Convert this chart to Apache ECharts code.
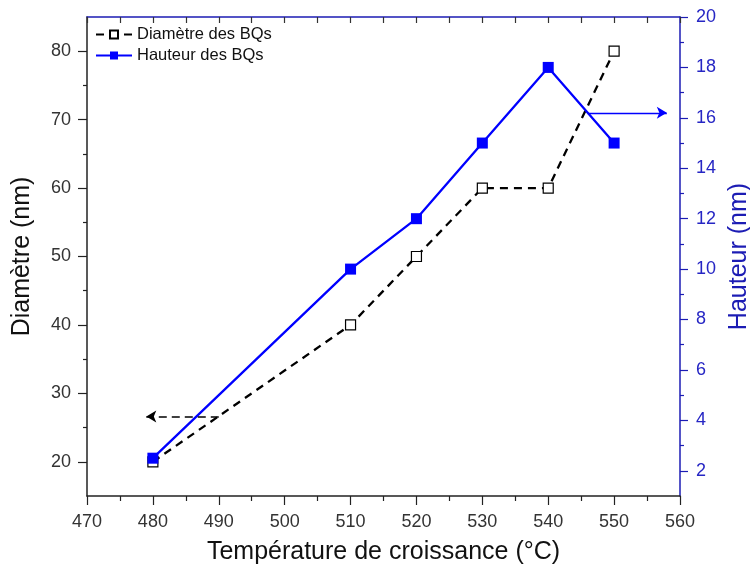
<!DOCTYPE html>
<html><head><meta charset="utf-8">
<script src="https://cdn.jsdelivr.net/npm/echarts@6/dist/echarts.min.js"></script>
<style>html,body{margin:0;padding:0;background:#fff}#c{width:750px;height:574px}</style>
</head><body><div id="c"></div>
<script>
const temps = [480, 510, 520, 530, 540, 550];
const diametre = [20, 40, 50, 60, 60, 80];
const hauteurT = [480, 510, 520, 530, 540, 550];
const hauteur = [2.5, 10, 12, 15, 18, 15];
const leftLabels = [20, 30, 40, 50, 60, 70, 80];
const leftMinor = [25, 35, 45, 55, 65, 75];
const rightLabels = [2, 4, 6, 8, 10, 12, 14, 16, 18, 20];
const rightMinor = [3, 5, 7, 9, 11, 13, 15, 17, 19];
const arrowDiam = [[490, 26.6], [479, 26.6]];
const arrowHaut = [[546, 16.2], [558, 16.2]];

const FONT = 'Liberation Sans, Arial, sans-serif';
const BLUE = '#0000ff';
const AXBLUE = '#1c1cb4';
const chart = echarts.init(document.getElementById('c'), null, {renderer: 'canvas'});
chart.setOption({
  animation: false,
  backgroundColor: '#fff',
  textStyle: {fontFamily: FONT},
  grid: {left: 87, right: 70, top: 17, bottom: 78, containLabel: false, outerBoundsMode: 'none'},
  legend: {
    left: 90, top: 21, orient: 'vertical', itemWidth: 36, itemHeight: 10, itemGap: 4,
    textStyle: {fontFamily: FONT, fontSize: 16.5, color: '#111'},
    data: ['Diamètre des BQs', 'Hauteur des BQs']
  },
  xAxis: [{
    type: 'value', position: 'bottom', min: 470, max: 560, interval: 10,
    name: 'Température de croissance (°C)', nameLocation: 'middle', nameGap: 44,
    nameTextStyle: {fontFamily: FONT, fontSize: 25, color: '#111'},
    axisLine: {show: true, onZero: false, lineStyle: {color: '#222', width: 1.5}},
    axisTick: {show: true, inside: false, length: 9, lineStyle: {color: '#222', width: 1.2}},
    minorTick: {show: true, splitNumber: 2, length: 5, lineStyle: {color: '#222', width: 1.2}},
    axisLabel: {fontFamily: FONT, fontSize: 18, color: '#333', margin: 17},
    splitLine: {show: false}
  }, {
    type: 'value', position: 'top', min: 470, max: 560, interval: 5,
    axisLine: {show: true, onZero: false, lineStyle: {color: AXBLUE, width: 1.5}},
    axisTick: {show: true, inside: true, length: 6, lineStyle: {color: '#333', width: 1.2}},
    axisLabel: {show: false}, splitLine: {show: false}
  }],
  yAxis: [{
    type: 'value', position: 'left', min: 15, max: 85,
    name: 'Diamètre (nm)', nameLocation: 'middle', nameGap: 52, nameRotate: 90,
    nameTextStyle: {fontFamily: FONT, fontSize: 25, color: '#111'},
    axisLine: {show: true, onZero: false, lineStyle: {color: '#222', width: 1.5}},
    axisTick: {show: true, length: 9, customValues: leftLabels, lineStyle: {color: '#222', width: 1.2}},
    axisLabel: {fontFamily: FONT, fontSize: 18, color: '#333', margin: 16, customValues: leftLabels},
    splitLine: {show: false}
  }, {
    type: 'value', position: 'right', min: 1, max: 20,
    name: 'Hauteur (nm)', nameLocation: 'middle', nameGap: 45, nameRotate: 90,
    nameTextStyle: {fontFamily: FONT, fontSize: 25, color: AXBLUE},
    axisLine: {show: true, onZero: false, lineStyle: {color: AXBLUE, width: 1.5}},
    axisTick: {show: true, length: 8, customValues: rightLabels, lineStyle: {color: AXBLUE, width: 1.2}},
    axisLabel: {fontFamily: FONT, fontSize: 18, color: '#2626c4', margin: 16, customValues: rightLabels},
    splitLine: {show: false}
  }, {
    type: 'value', position: 'left', min: 15, max: 85,
    axisLine: {show: false},
    axisTick: {show: true, length: 4, customValues: leftMinor, lineStyle: {color: '#222', width: 1.2}},
    axisLabel: {show: false}, splitLine: {show: false}
  }, {
    type: 'value', position: 'right', min: 1, max: 20,
    axisLine: {show: false},
    axisTick: {show: true, length: 4, customValues: rightMinor, lineStyle: {color: AXBLUE, width: 1.2}},
    axisLabel: {show: false}, splitLine: {show: false}
  }],
  series: [{
    name: 'Diamètre des BQs', type: 'line', xAxisIndex: 0, yAxisIndex: 0,
    data: temps.map((t, i) => [t, diametre[i]]),
    symbol: 'rect', symbolSize: 10, showAllSymbol: true, z: 3,
    lineStyle: {color: '#000', width: 2.3, type: [8, 6]},
    itemStyle: {color: '#fff', borderColor: '#000', borderWidth: 1.2},
    markLine: {
      silent: true, symbol: ['none', 'arrow'], symbolSize: [9, 10],
      label: {show: false},
      lineStyle: {color: '#000', width: 1.6, type: [8, 5]},
      data: [[{coord: arrowDiam[0]}, {coord: arrowDiam[1]}]]
    }
  }, {
    name: 'Hauteur des BQs', type: 'line', xAxisIndex: 0, yAxisIndex: 1,
    data: hauteurT.map((t, i) => [t, hauteur[i]]),
    symbol: 'rect', symbolSize: 11, showAllSymbol: true, z: 4,
    lineStyle: {color: BLUE, width: 2.3},
    itemStyle: {color: BLUE, borderColor: BLUE, borderWidth: 0},
    markLine: {
      silent: true, symbol: ['none', 'arrow'], symbolSize: [9, 10],
      label: {show: false},
      lineStyle: {color: BLUE, width: 1.4, type: 'solid'},
      data: [[{coord: arrowHaut[0]}, {coord: arrowHaut[1]}]]
    }
  }]
});
</script></body></html>
